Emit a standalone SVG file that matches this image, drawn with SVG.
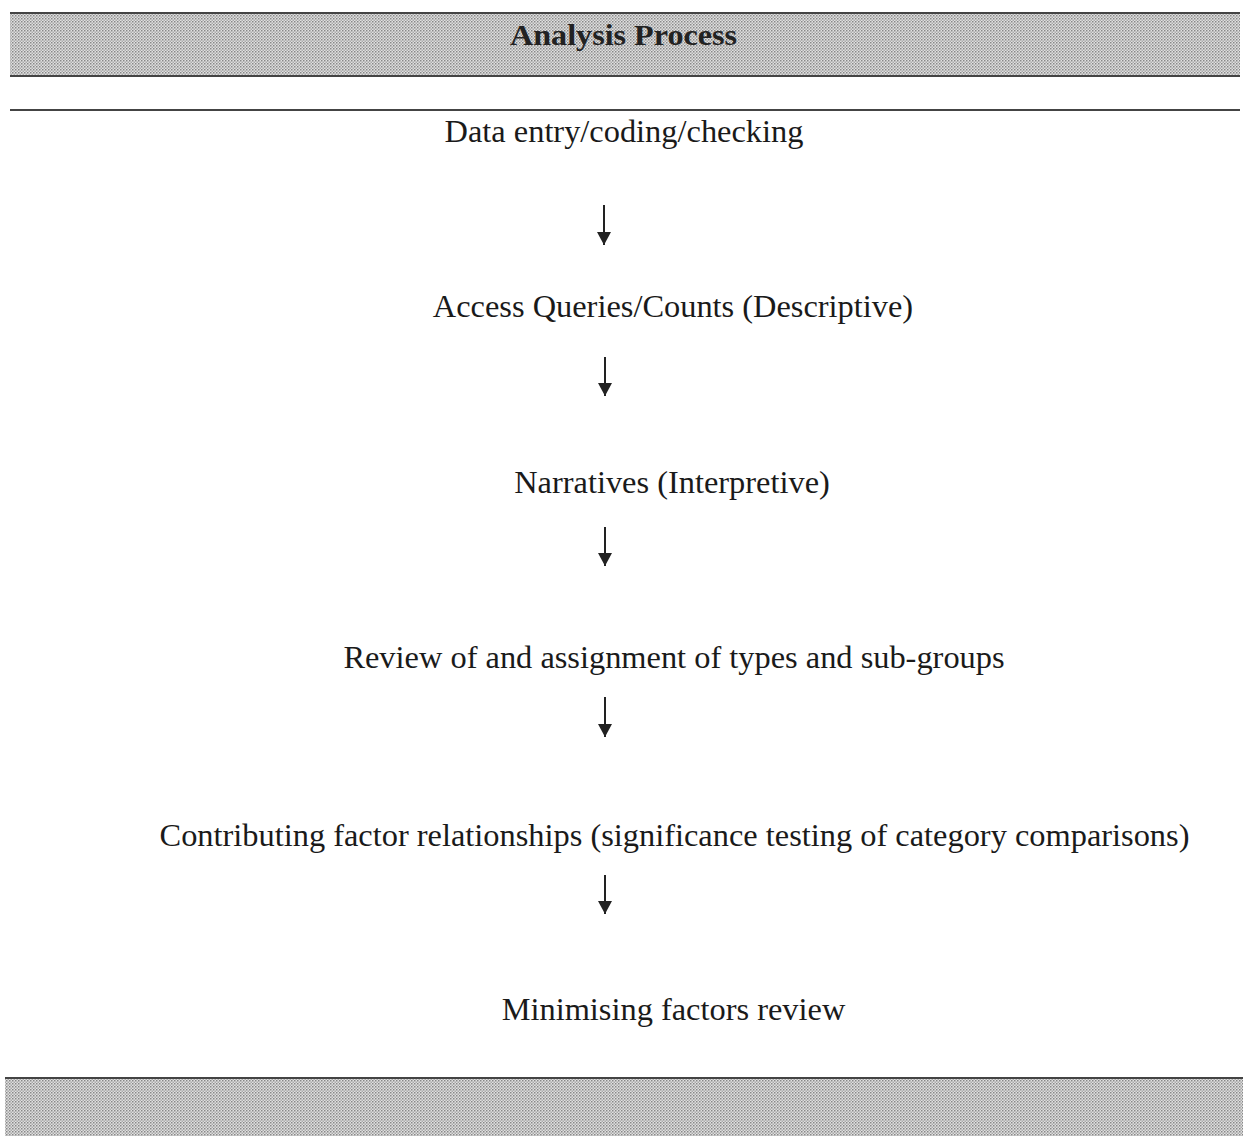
<svg xmlns="http://www.w3.org/2000/svg" width="1248" height="1136" viewBox="0 0 1248 1136">
<defs>
<pattern id="stip" width="3" height="3" patternUnits="userSpaceOnUse">
<rect width="3" height="3" fill="#e0e0e0"/>
<rect x="0" y="0" width="1.5" height="1.5" fill="#888"/>
<rect x="1.5" y="1.5" width="1.5" height="1.5" fill="#aaa"/>
</pattern>
<marker id="ah" markerWidth="13" markerHeight="14" viewBox="0 0 13 14" refX="13" refY="7" orient="auto" markerUnits="userSpaceOnUse">
<path d="M0,0 L13,7 L0,14 Z" fill="#222"/>
</marker>
</defs>
<style>
.t{font-family:"Liberation Serif","Times New Roman",serif;font-size:32.4px;fill:#1a1a1a;text-anchor:middle}
.h{font-family:"Liberation Serif","Times New Roman",serif;font-size:29px;font-weight:bold;fill:#222;text-anchor:middle}
.c{stroke:#222;stroke-width:2;fill:none;marker-end:url(#ah)}
.rule{stroke:#444;stroke-width:2}
</style>
<rect width="1248" height="1136" fill="#fff"/>
<g id="header">
<rect x="10" y="13" width="1230" height="63" fill="url(#stip)"/>
<line class="rule" x1="10" y1="13" x2="1240" y2="13"/>
<line class="rule" x1="10" y1="76" x2="1240" y2="76"/>
<text class="h" x="623.5" y="45" textLength="227" lengthAdjust="spacingAndGlyphs">Analysis Process</text>
</g>
<line class="rule" x1="10" y1="110" x2="1240" y2="110"/>
<g id="n1"><text class="t" x="624" y="142">Data entry/coding/checking</text></g>
<g id="n2"><text class="t" x="673" y="317">Access Queries/Counts (Descriptive)</text></g>
<g id="n3"><text class="t" x="672" y="493">Narratives (Interpretive)</text></g>
<g id="n4"><text class="t" x="674" y="668">Review of and assignment of types and sub-groups</text></g>
<g id="n5"><text class="t" x="674.5" y="846">Contributing factor relationships (significance testing of category comparisons)</text></g>
<g id="n6"><text class="t" x="673.5" y="1020">Minimising factors review</text></g>
<g id="connectors">
<line class="c" x1="604" y1="205" x2="604" y2="245"/>
<line class="c" x1="605" y1="357" x2="605" y2="396"/>
<line class="c" x1="605" y1="527" x2="605" y2="566"/>
<line class="c" x1="605" y1="697" x2="605" y2="737"/>
<line class="c" x1="605" y1="875" x2="605" y2="914"/>
</g>
<g id="footer">
<rect x="5" y="1078" width="1238" height="58" fill="url(#stip)"/>
<line class="rule" x1="5" y1="1078" x2="1243" y2="1078"/>
</g>
</svg>
